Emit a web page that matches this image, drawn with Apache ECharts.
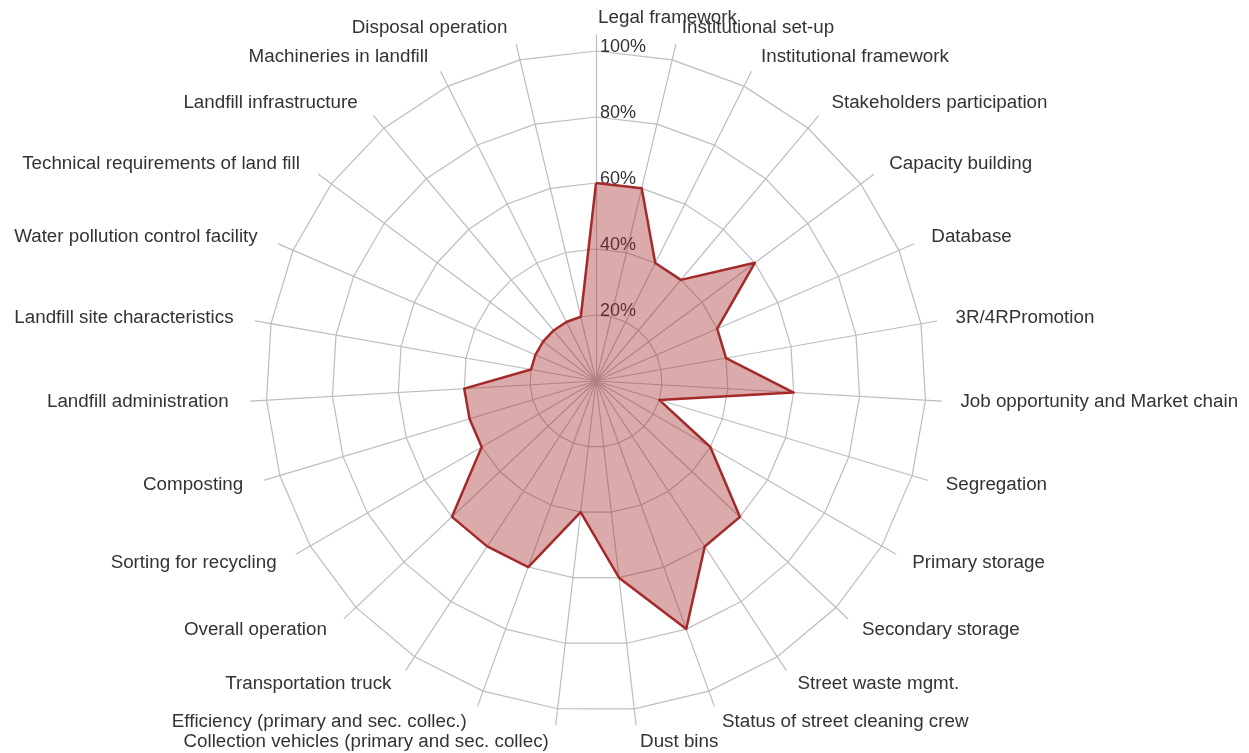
<!DOCTYPE html>
<html>
<head>
    <meta charset="UTF-8">
    <script src="https://cdn.jsdelivr.net/npm/echarts@6/dist/echarts.min.js"></script>
    <style>
        html, body { margin: 0; padding: 0; background: #fff; }
        #main { width: 1249px; height: 753px; }
    </style>
</head>
<body>
<div id="main"></div>
<script type="text/javascript">
    var indicators = ['Legal framework', 'Institutional set-up', 'Institutional framework',
        'Stakeholders participation', 'Capacity building', 'Database', '3R/4RPromotion',
        'Job opportunity and Market chain', 'Segregation', 'Primary storage', 'Secondary storage',
        'Street waste mgmt.', 'Status of street cleaning crew', 'Dust bins',
        'Collection vehicles (primary and sec. collec)', 'Efficiency (primary and sec. collec.)',
        'Transportation truck', 'Overall operation', 'Sorting for recycling', 'Composting',
        'Landfill administration', 'Landfill site characteristics', 'Water pollution control facility',
        'Technical requirements of land fill', 'Landfill infrastructure', 'Machineries in landfill',
        'Disposal operation'];
    var scores = [60, 60, 40, 40, 60, 40, 40, 60, 20, 40, 60, 60, 80, 60, 40, 60, 60, 60,
        40, 40, 40, 20, 20, 20, 20, 20, 20];
    var tickLabels = ['20%', '40%', '60%', '80%', '100%'];

    var center = [596, 381];
    var gridColor = '#bdbdbd';
    var textFont = '"Liberation Sans", Arial, sans-serif';

    // radar runs counter-clockwise, the chart goes clockwise: keep the first, flip the rest
    function clockwiseOrder(arr) {
        return [arr[0]].concat(arr.slice(1).reverse());
    }

    var myChart = echarts.init(document.getElementById('main'));

    // radar 0: rings 0..100 and tick labels; radar 1: longer spokes and names
    var gridIndicators = clockwiseOrder(indicators).map(function (n, i) {
        var item = {name: n, min: 0, max: 100};
        if (i === 0) {
            item.axisLabel = {
                show: true,
                color: '#333',
                fontSize: 18,
                fontFamily: textFont,
                margin: -4,
                align: 'left',
                verticalAlign: 'bottom',
                lineHeight: 8,
                formatter: function (v) {
                    var k = Math.round(v / 20) - 1;
                    return k >= 0 ? tickLabels[k] : '';
                }
            };
        }
        return item;
    });
    var nameIndicators = clockwiseOrder(indicators).map(function (n) {
        return {name: n, min: 0, max: 100};
    });

    option = {
        backgroundColor: '#fff',
        radar: [
            {
                center: center,
                radius: 330,
                startAngle: 89.99,
                splitNumber: 5,
                indicator: gridIndicators,
                axisName: {show: false},
                axisLine: {show: false},
                axisTick: {show: false},
                axisLabel: {show: false},
                splitArea: {show: false},
                splitLine: {lineStyle: {color: gridColor, width: 1.2}}
            },
            {
                center: center,
                radius: 346,
                startAngle: 89.99,
                splitNumber: 1,
                nameGap: 17,
                indicator: nameIndicators,
                axisName: {
                    color: '#333', fontSize: 18.8, fontFamily: textFont,
                    padding: [4, 5, 0, 2]
                },
                axisLine: {lineStyle: {color: gridColor, width: 1.2}},
                axisTick: {show: false},
                axisLabel: {show: false},
                splitArea: {show: false},
                splitLine: {show: false}
            }
        ],
        series: [
            {
                type: 'radar',
                radarIndex: 0,
                symbol: 'none',
                lineStyle: {color: '#a52a2a', width: 2.5},
                areaStyle: {color: '#a52a2a', opacity: 0.4},
                data: [{value: clockwiseOrder(scores), name: 'Score'}]
            }
        ]
    };
    myChart.setOption(option);
</script>
</body>
</html>
